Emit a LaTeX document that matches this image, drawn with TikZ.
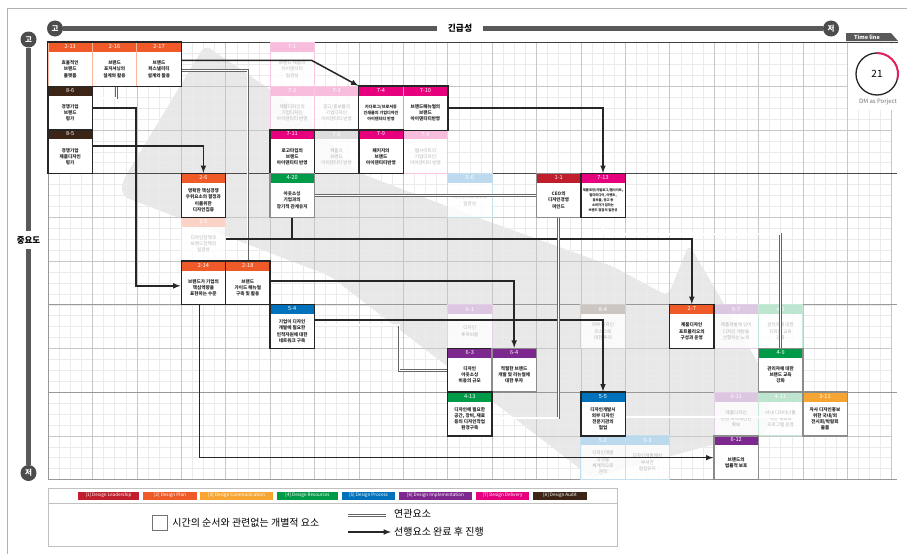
\documentclass[tikz,border=0pt]{standalone}
\usepackage{fontspec}
\setmainfont{Noto Sans CJK KR}
\usetikzlibrary{positioning}
\definecolor{clead}{RGB}{192,30,45}
\definecolor{cplan}{RGB}{240,90,40}
\definecolor{ccomm}{RGB}{247,165,50}
\definecolor{cres}{RGB}{0,155,72}
\definecolor{cproc}{RGB}{0,114,188}
\definecolor{cimpl}{RGB}{125,40,142}
\definecolor{cdeli}{RGB}{230,0,126}
\definecolor{caudit}{RGB}{60,36,22}
\definecolor{ringrot}{RGB}{232,30,90}

\tikzset{
  akt/.style={draw=black!85, line width=1.4pt, fill=white, minimum width=44.4pt, minimum height=43.7pt, inner sep=0pt,
    path picture={\fill[#1] (path picture bounding box.north west) rectangle ([yshift=-9.5pt]path picture bounding box.north east);}},
  aktg/.style={akt=#1, draw=black!45},
  aktk/.style={akt=#1},
  grp/.style={akt=#1, draw=#1!45, line width=.8pt},
  grpk/.style={grp=#1},
  blass/.style={draw=#1!22, line width=.8pt, fill=white, fill opacity=.8, minimum width=44.4pt, minimum height=43.7pt, inner sep=0pt,
    path picture={\fill[#1!32] (path picture bounding box.north west) rectangle ([yshift=-9.5pt]path picture bounding box.north east);}},
  blassd/.style={blass=#1, draw=black!80, line width=1.2pt},
  akt text/.style={font=\fontsize{4.6}{6.2}\selectfont\bfseries, text=black!85, align=center, inner sep=0pt},
  aktg text/.style={akt text},
  aktk text/.style={akt text, font=\fontsize{3.3}{4.9}\selectfont\bfseries},
  grp text/.style={akt text},
  grpk text/.style={akt text, font=\fontsize{4.1}{6}\selectfont\bfseries},
  blass text/.style={akt text, font=\fontsize{4.6}{6.2}\selectfont, text=black!30},
  blassd text/.style={blass text},
  kopf/.style={font=\fontsize{5.6}{6}\selectfont, text=white, inner sep=0pt},
  pfeil/.style={->, draw=black!85, line width=1.5pt},
  bezug/.style={draw=black!60, line width=.7pt, double=white, double distance=1.2pt},
  punkt/.style={circle, fill=black!70, text=white, minimum size=16pt, inner sep=0pt, font=\fontsize{7.5}{8}\selectfont\bfseries},
  balken/.style={line width=5pt, black!65}
}

% Feld: [Stil]{Name}{Spalte}{Zeile}{Nummer}{Farbe}{Text}
\newcommand{\feld}[7][akt]{%
  \node[#1=#6] (#2) at ({70.2+44.4*#3},{64.35+43.7*#4}) {};
  \node[#1 text] (#2t) at ([yshift=-4.75pt]#2.center) {#7};
  \node[kopf] (#2k) at ([yshift=-4.75pt]#2.north) {#5};
}

\begin{document}
\begin{tikzpicture}[x=1pt, y=-1pt, >=latex, font=\footnotesize]
  \useasboundingbox (0,0) rectangle (907,554);
  % Rahmen
  \draw[gray!60, line width=.8pt] (907,8) -- (7,8) -- (7,554);
  % Achsen
  \node[punkt] (ko) at (55,28.5) {고};
  \node[punkt] (jeo) at (831,28.5) {저};
  \node[font=\fontsize{8.8}{9}\selectfont\bfseries, inner xsep=11pt] (ginc) at (460,28.5) {긴급성};
  \draw[balken] (ko) -- (ginc);
  \draw[balken] (ginc) -- (jeo);
  \node[punkt] (ko2) at (28.5,39.5) {고};
  \node[font=\fontsize{8.5}{9}\selectfont\bfseries, inner ysep=5pt, inner xsep=1pt] (jung) at (28.5,240) {중요도};
  \node[punkt] (jeo2) at (28.5,473) {저};
  \draw[balken] (ko2) -- (jung);
  \draw[balken] (jung) -- (jeo2);
  % Band
  \fill[black!9, rounded corners=7pt] (205,45) -- (300,110) -- (357,172) -- (457,210) -- (612,266) -- (668,296)
    -- (689,244) -- (768,380) -- (768,432) -- (700,448) -- (592,478) -- (330,276) -- (122,196) -- (122,182) -- cycle;
  % Raster zeichnen
  \foreach \i in {0,...,76} \draw[black!8, line width=.4pt] ({48+11.1*\i},42.5) -- ({48+11.1*\i},479.5);
  \foreach \j in {0,...,40} \draw[black!8, line width=.4pt] (48,{42.5+10.925*\j}) -- (891.6,{42.5+10.925*\j});
  \foreach \i in {0,...,19} \draw[black!22, line width=.6pt] ({48+44.4*\i},42.5) -- ({48+44.4*\i},479.5);
  \foreach \j in {0,...,10} \draw[black!22, line width=.6pt] (48,{42.5+43.7*\j}) -- (891.6,{42.5+43.7*\j});
  \draw[black!70, line width=.8pt] (48,173.6) -- (897,173.6);
  \draw[black!40, line width=.8pt] (48,304.7) -- (897,304.7);
  \draw[black!40, line width=.8pt] (48,392.1) -- (897,392.1);
  \draw[black!40, line width=.8pt] (48,42.5) -- (48,479.5) -- (897,479.5);
  \draw[black!75, line width=1pt] (48,42.5) -- (898,42.5);
  % Time line
  \fill[white] (848,43.5) rectangle (897,110);
  \fill[black!65] (846,33) -- (891,33) -- (898,41) -- (846,41) -- cycle;
  \node[font=\fontsize{5.5}{6}\selectfont\bfseries, text=white, inner sep=0pt] (tl) at (867,37) {Time line};
  \node[circle, minimum size=43pt, inner sep=0pt, font=\fontsize{10}{10}\selectfont] (dm) at (877,74) {21};
  \begin{scope}[shift={(dm.center)}, x=1pt, y=1pt]
    \draw[black!85, line width=1.3pt] (0,0) circle (21);
    \draw[ringrot, line width=1.9pt] (90:21) arc (90:-15:21);
  \end{scope}
  \node[font=\fontsize{6}{6}\selectfont, text=black!55, inner sep=0pt] (dmt) at (878,101.5) {DM as Porject};
  % Felder (blass)
  \feld[blass]{b71}{5}{0}{7-1}{cdeli}{브랜드 제품의\\아이덴티티\\일관성}
  \feld[blass]{b72}{5}{1}{7-2}{cdeli}{제품디자인의\\기업디자인\\아이덴티티 반영}
  \feld[blass]{b73}{6}{1}{7-3}{cdeli}{광고/홍보물의\\기업디자인\\아이덴티티 반영}
  \feld[blassd]{b78}{6}{2}{7-8}{gray}{제품의\\브랜드\\아이덴티티 반영}
  \feld[blass]{b75}{8}{2}{7-5}{cdeli}{웹사이트의\\기업디자인\\아이덴티티 반영}
  \feld[blass]{b56}{9}{3}{5-6}{cproc}{디자인프로세스의\\일관성}
  \feld[blass]{b25}{3}{4}{2-5}{cplan}{디자인정책과\\브랜드정책의\\일관성}
  \feld[blass]{b61}{9}{6}{6-1}{cimpl}{디자인\\투자비용}
  \feld[blass]{b84}{12}{6}{8-4}{caudit}{외부 디자인\\리소스에\\대한 투자}
  \feld[blass]{b67}{15}{6}{6-7}{cimpl}{제품개발에 있어\\디자인 개발을\\선행하는 노력}
  \feld[blass]{b43}{16}{6}{4-3}{cres}{관리자에 대한\\디자인 교육\\강화}
  \feld[blass]{b611}{15}{8}{6-11}{cimpl}{제품디자인\\관련 지적재산권\\확보}
  \feld[blass]{b411}{16}{8}{4-11}{cres}{사내 디자이너를\\위한 재교육\\프로그램 운영}
  \feld[blass]{b52}{12}{9}{5-2}{cproc}{디자인개발\\과정을\\체계적으로\\관리}
  \feld[blass]{b53}{13}{9}{5-3}{cproc}{디자인개발에서\\부서간\\협업유지}
  % Felder
  \feld[grp]{b213}{0}{0}{2-13}{cplan}{효율적인\\브랜드\\플랫폼}
  \feld[grp]{b216}{1}{0}{2-16}{cplan}{브랜드\\포지셔닝의\\설계와 활용}
  \feld[grp]{b217}{2}{0}{2-17}{cplan}{브랜드\\퍼스낼리티\\설계와 활용}
  \draw[black!85, line width=1.4pt] (b213.north west) rectangle (b217.south east);
  \feld{b86}{0}{1}{8-6}{caudit}{경쟁기업\\브랜드\\평가}
  \feld{b85}{0}{2}{8-5}{caudit}{경쟁기업\\제품디자인\\평가}
  \feld[grpk]{b74}{7}{1}{7-4}{cdeli}{카다로그/브로셔등\\인쇄물의 기업디자인\\아이덴티티 반영}
  \feld[grp]{b710}{8}{1}{7-10}{cdeli}{브랜드매뉴얼의\\브랜드\\아이덴티티반영}
  \draw[black!85, line width=1.4pt] (b74.north west) rectangle (b710.south east);
  \feld{b711}{5}{2}{7-11}{cdeli}{로고타입의\\브랜드\\아이덴티티 반영}
  \feld{b79}{7}{2}{7-9}{cdeli}{패키지의\\브랜드\\아이덴티티반영}
  \feld{b26}{3}{3}{2-6}{cplan}{명확한 핵심경쟁\\우위요소의 결정과\\이를위한\\디자인집중}
  \feld[aktg]{b420}{5}{3}{4-20}{cres}{아웃소싱\\기업과의\\장기적 관계유지}
  \feld[aktg]{b11}{11}{3}{1-1}{clead}{CEO의\\디자인경영\\마인드}
  \feld[aktk]{b713}{12}{3}{7-13}{cdeli}{제품포장/카탈로그/웹사이트,\\멀티미디어, 이벤트,\\홍보물, 광고 등\\소비자가 접하는\\브랜드 접점의 일관성}
  \feld{b214}{3}{5}{2-14}{cplan}{브랜드가 기업의\\핵심역량을\\표현하는 수준}
  \feld{b218}{4}{5}{2-18}{cplan}{브랜드\\가이드 매뉴얼\\구축 및 활용}
  \feld{b54}{5}{6}{5-4}{cproc}{기업이 디자인\\개발에 필요한\\인적자원에 대한\\네트워크 구축}
  \feld{b63}{9}{7}{6-3}{cimpl}{디자인\\아웃소싱\\비용의 규모}
  \feld[aktg]{b64}{10}{7}{6-4}{cimpl}{적절한 브랜드\\개발 및 리뉴얼에\\대한 투자}
  \feld{b413}{9}{8}{4-13}{cres}{디자인에 필요한\\공간, 장비, 재료\\등의 디자인작업\\환경구축}
  \feld{b55}{12}{8}{5-5}{cproc}{디자인개발시\\외부 디자인\\전문기관의\\협업}
  \feld{b27}{14}{6}{2-7}{cplan}{제품디자인\\포트폴리오의\\구성과 운영}
  \feld[aktg]{b49}{16}{7}{4-9}{cres}{관리자에 대한\\브랜드 교육\\강화}
  \feld[aktg]{b311}{17}{8}{3-11}{ccomm}{자사 디자인홍보\\위한 국내/외\\전시회/박람회\\출품}
  \feld[aktg]{b612}{15}{9}{6-12}{cimpl}{브랜드의\\법률적 보호}
  % Verbindungen
  \draw[pfeil] ([yshift=4pt]b217.east) -- ++(130,0) -- (b74.north west);
  \draw[bezug] ([yshift=-6pt]b217.east) -| (b218.north);
  \draw[bezug] ([xshift=2pt]b216.south) |- ([yshift=10pt]b86.east);
  \draw[pfeil] (b86.east) -- ++(43,0) |- ([yshift=-3pt]b214.west);
  \draw[pfeil] ([yshift=6pt]b85.east) -| (b26.north);
  \draw[pfeil] (b710.east) -| (b713.north);
  \draw[pfeil] (b25.east) -| (b27.north);
  \draw[black!85, line width=1.5pt] (b420.south) -- (b420.south |- b25.east);
  \draw[pfeil] ([xshift=-4pt]b214.south) |- (b612.west);
  \draw[pfeil] ([yshift=2pt]b218.east) -| (b64.north);
  \draw[pfeil] ([yshift=6.5pt]b54.east) -| (b55.north);
  \draw[bezug] ([yshift=1.5pt]b54.east) -- ++(84,0) |- (b63.west);
  \draw[bezug] (b420.east) -- (b11.west);
  \draw[bezug] (b11.south) |- ([yshift=-4pt]b413.east);
  \draw[bezug] (b713.south) -- ++(0,16) -| (b49.north);
  \draw[bezug] ([yshift=-3pt]b55.east) -- ([yshift=-3pt]b311.west);
  % Legende
  \draw[black!25, line width=.6pt] (48,488) rectangle (617,546);
  \draw[black!25, line width=.6pt] (48,503) -- (617,503);
  \foreach \n/\x/\w/\f/\t in {1/108.5/61/clead/Design Leadership, 2/170/54/cplan/Design Plan,
      3/236.5/73/ccomm/Design Communication, 4/307.5/61/cres/Design Resources, 5/368.5/53/cproc/Design Process,
      6/435.5/73/cimpl/Design Implementation, 7/502.5/53/cdeli/Design Delivery, 8/560/54/caudit/Design Audit}
    \node[fill=\f, text=white, minimum width=\w pt, minimum height=8pt, inner sep=0pt, font=\fontsize{4.6}{5}\selectfont] (leg\n) at (\x,495.5) {[\n] \t};
  \node[draw=black!55, line width=.8pt, minimum size=15.5pt, inner sep=0pt] (einzel) at (160,523) {};
  \node[right=3pt of einzel, font=\fontsize{10}{10}\selectfont, inner sep=1pt] (einzelt) {시간의 순서와 관련없는 개별적 요소};
  \node[anchor=west, font=\fontsize{10}{10}\selectfont, inner sep=1pt] (bezugt) at (393,514) {연관요소};
  \node[anchor=west, font=\fontsize{10}{10}\selectfont, inner sep=1pt] (pfeilt) at (393,532) {선행요소 완료 후 진행};
  \coordinate (bz) at (348,514.5);
  \coordinate (pf) at (348,532);
  \draw[draw=black!60, line width=.7pt] (bz) -- ++(38,0);
  \draw[draw=black!60, line width=.7pt] ([yshift=-2pt]bz) -- ++(38,0);
  \draw[pfeil] (pf) -- ++(43,0);
\end{tikzpicture}
\end{document}
